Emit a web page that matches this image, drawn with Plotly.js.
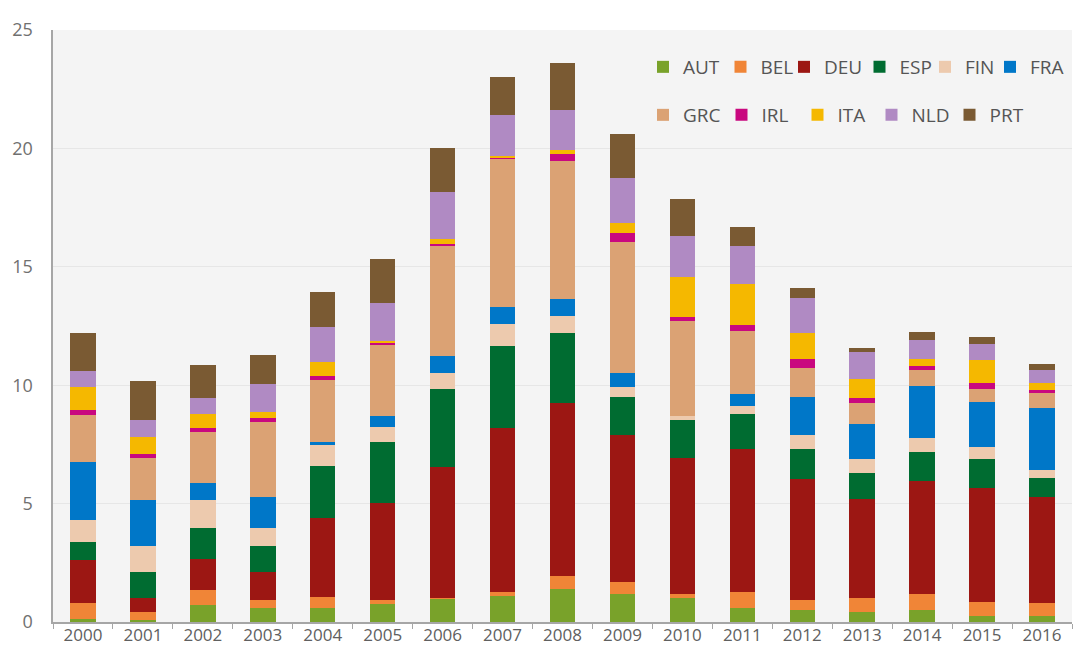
<!DOCTYPE html>
<html>
<head>
<meta charset="utf-8">
<script src="https://cdn.plot.ly/plotly-3.0.1.min.js"></script>
<style>html,body{margin:0;padding:0;background:#fff;}#chart{width:1079px;height:648px;}</style>
</head>
<body>
<div id="chart"></div>
<script>
var years = ["2000","2001","2002","2003","2004","2005","2006","2007","2008","2009","2010","2011","2012","2013","2014","2015","2016"];
var AUT = [0.11,0.07,0.73,0.58,0.61,0.75,0.97,1.09,1.40,1.17,1.02,0.60,0.52,0.42,0.52,0.27,0.27];
var BEL = [0.68,0.35,0.61,0.34,0.45,0.17,0.05,0.16,0.55,0.50,0.17,0.66,0.42,0.61,0.67,0.57,0.53];
var DEU = [1.82,0.61,1.34,1.21,3.32,4.12,5.53,6.94,7.30,6.21,5.72,6.03,5.10,4.17,4.78,4.82,4.49];
var ESP = [0.77,1.07,1.31,1.07,2.20,2.56,3.28,3.48,2.97,1.64,1.61,1.51,1.26,1.09,1.22,1.22,0.79];
var FIN = [0.92,1.11,1.16,0.77,0.88,0.62,0.70,0.92,0.70,0.39,0.17,0.31,0.59,0.59,0.58,0.49,0.34];
var FRA = [2.47,1.94,0.73,1.33,0.16,0.49,0.72,0.70,0.73,0.59,0.00,0.52,1.62,1.50,2.20,1.90,2.60];
var GRC = [1.98,1.78,2.14,3.16,2.60,3.00,4.64,6.26,5.80,5.55,4.02,2.68,1.21,0.85,0.68,0.59,0.63];
var IRL = [0.21,0.16,0.17,0.15,0.15,0.09,0.09,0.03,0.33,0.36,0.19,0.24,0.40,0.22,0.16,0.25,0.15];
var ITA = [0.95,0.73,0.59,0.24,0.62,0.08,0.20,0.09,0.16,0.42,1.68,1.71,1.10,0.83,0.31,0.96,0.31];
var NLD = [0.70,0.72,0.68,1.20,1.45,1.58,1.99,1.75,1.70,1.92,1.71,1.61,1.47,1.12,0.79,0.69,0.54];
var PRT = [1.58,1.62,1.39,1.23,1.51,1.89,1.83,1.61,1.96,1.87,1.58,0.79,0.43,0.16,0.34,0.28,0.23];
var yTicks = [0,5,10,15,20,25];

var series = [
  {name:"AUT", y:AUT, color:"#79a22a"},
  {name:"BEL", y:BEL, color:"#f08537"},
  {name:"DEU", y:DEU, color:"#9c1713"},
  {name:"ESP", y:ESP, color:"#006c31"},
  {name:"FIN", y:FIN, color:"#edcaae"},
  {name:"FRA", y:FRA, color:"#0077c8"},
  {name:"GRC", y:GRC, color:"#dba274"},
  {name:"IRL", y:IRL, color:"#c9087f"},
  {name:"ITA", y:ITA, color:"#f5b800"},
  {name:"NLD", y:NLD, color:"#b08ac3"},
  {name:"PRT", y:PRT, color:"#7a5a33"}
];

// legend entry placement (pixel left of each entry, row)
var legendLeftPx = [643, 720.5, 784, 859.5, 925, 990, 643, 721.5, 797.5, 871.5, 949.5];
var legendRow    = [0,0,0,0,0,0,1,1,1,1,1];

var fontFam = "'Open Sans', sans-serif";
var mL = 53, mR = 7, mT = 30, mB = 26, W = 1079, H = 648;
var plotW = W - mL - mR, plotH = H - mT - mB;
var rowCenterPx = [67, 115];

var traces = series.map(function(s, i){
  var legId = i === 0 ? "legend" : "legend" + (i + 1);
  return {type:"bar", name:s.name, x:years, y:s.y, legend:legId,
          marker:{color:s.color, line:{width:0}}, hoverinfo:"name+y"};
});

var layout = {
  width:W, height:H,
  margin:{l:mL, r:mR, t:mT, b:mB, autoexpand:false},
  paper_bgcolor:"#ffffff",
  plot_bgcolor:"#f4f4f4",
  barmode:"stack",
  bargap:0.575,
  showlegend:true,
  font:{family:fontFam, color:"#666666", size:17},
  xaxis:{type:"category", showline:true, linecolor:"#a6a6a6", linewidth:2,
         ticks:"outside", tickson:"boundaries", ticklen:5, tickcolor:"#a6a6a6", tickwidth:1,
         ticklabelstandoff:-3,
         showgrid:false, tickfont:{size:17, color:"#606060"}, fixedrange:true},
  yaxis:{range:[0,25], tickvals:yTicks, showline:true, linecolor:"#a6a6a6", linewidth:2.5,
         showgrid:true, gridcolor:"#e6e6e6", gridwidth:1, zeroline:false, ticks:"",
         ticklabelstandoff:14, tickfont:{size:18, color:"#707070"}, fixedrange:true}
};

series.forEach(function(s, i){
  var legId = i === 0 ? "legend" : "legend" + (i + 1);
  layout[legId] = {
    orientation:"h", xanchor:"left", yanchor:"middle",
    x:(legendLeftPx[i] - mL) / plotW,
    y:(H - mB - rowCenterPx[legendRow[i]]) / plotH,
    bgcolor:"rgba(0,0,0,0)",
    font:{size:19, color:"#555555", family:fontFam}
  };
});

Plotly.newPlot("chart", traces, layout, {displayModeBar:false, staticPlot:true});
</script>
</body>
</html>
